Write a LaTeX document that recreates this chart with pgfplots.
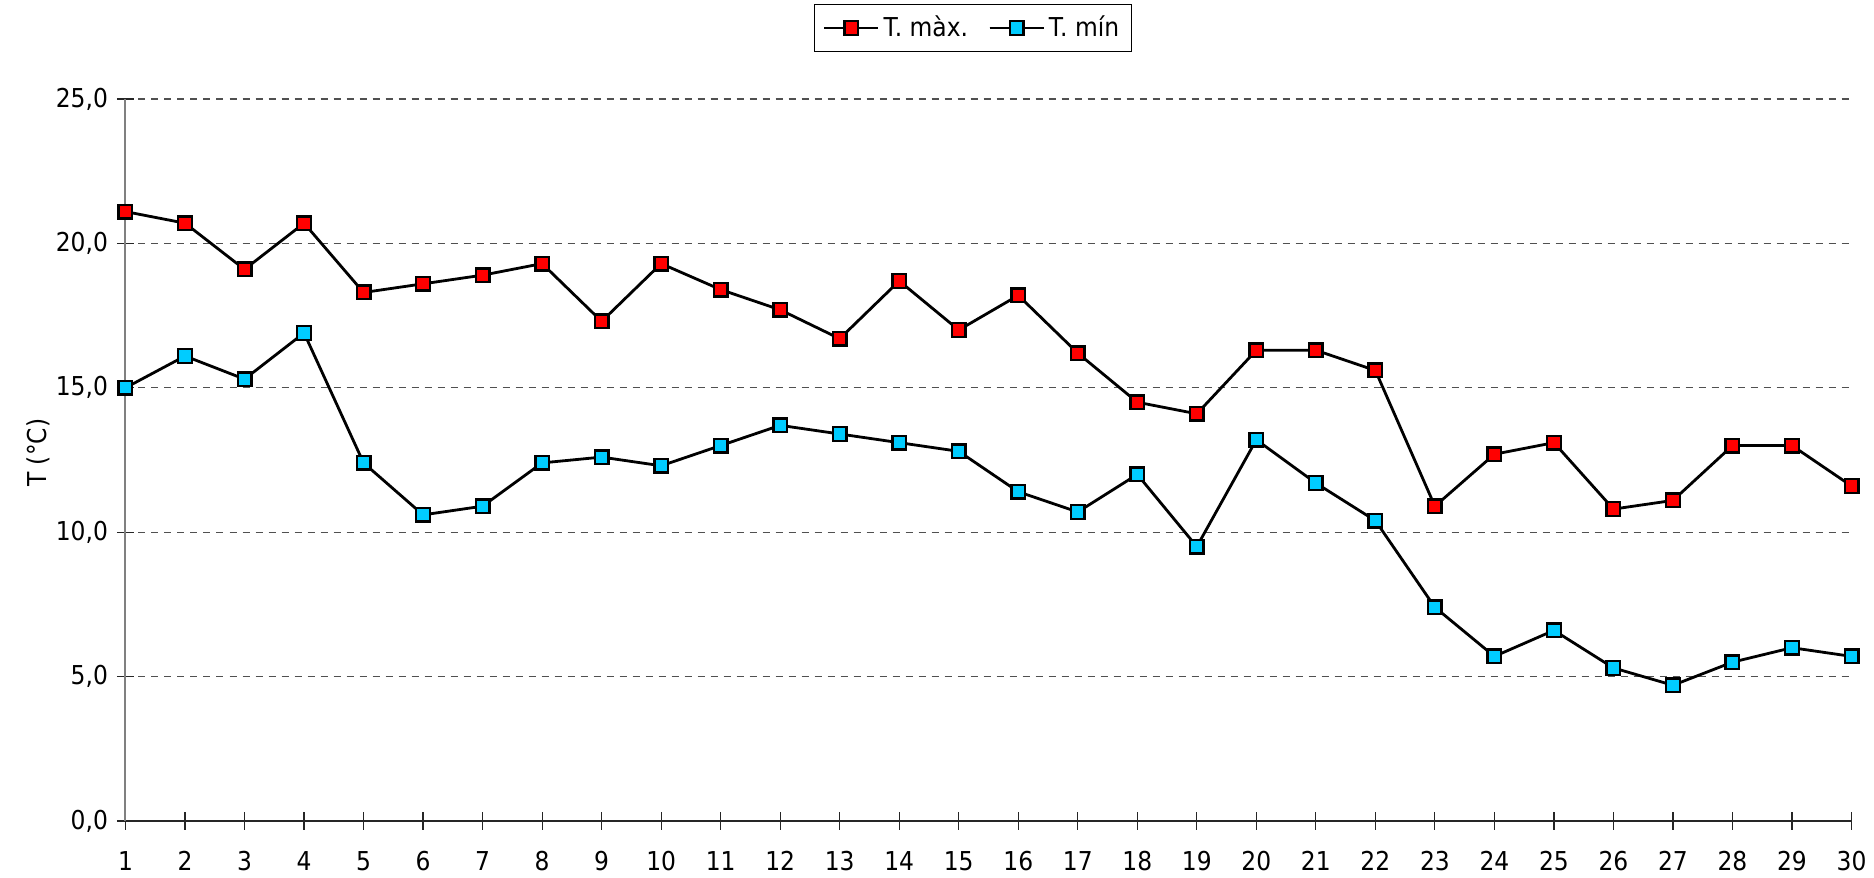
\documentclass[border=0pt]{standalone}
\usepackage{pgfplots}
\pgfplotsset{compat=1.18}
\usepackage{fontspec}
\setmainfont{DejaVu Sans Condensed}
\definecolor{tmax}{RGB}{255,0,0}
\definecolor{tmin}{RGB}{0,204,255}
\definecolor{gridgray}{RGB}{80,80,80}
\pgfplotstableread{
d tmax tmin
1 21.1 15.0
2 20.7 16.1
3 19.1 15.3
4 20.7 16.9
5 18.3 12.4
6 18.6 10.6
7 18.9 10.9
8 19.3 12.4
9 17.3 12.6
10 19.3 12.3
11 18.4 13.0
12 17.7 13.7
13 16.7 13.4
14 18.7 13.1
15 17.0 12.8
16 18.2 11.4
17 16.2 10.7
18 14.5 12.0
19 14.1 9.5
20 16.3 13.2
21 16.3 11.7
22 15.6 10.4
23 10.9 7.4
24 12.7 5.7
25 13.1 6.6
26 10.8 5.3
27 11.1 4.7
28 13.0 5.5
29 13.0 6.0
30 11.6 5.7
}\datatable
\begin{document}
\begin{tikzpicture}
\begin{axis}[
  scale only axis,
  width=863pt, height=361pt,
  at={(0,0)}, anchor=origin,
  xmin=1, xmax=30, ymin=0, ymax=25,
  xtick={1,...,30},
  ytick={0,5,10,15,20,25},
  font=\fontsize{13}{14}\selectfont,
  /pgf/number format/assume math mode=true,
  yticklabel style={xshift=-1pt, /pgf/number format/fixed, /pgf/number format/fixed zerofill, /pgf/number format/precision=1, /pgf/number format/use comma},
  xticklabel style={anchor=north, yshift=-7.5pt, /pgf/number format/int detect},
  axis x line*=bottom,
  axis y line*=left,
  x axis line style={black!85, line width=0.6pt, -},
  y axis line style={gray, line width=1pt, -},
  tick align=center,
  major tick length=8.5pt,
  tick style={black!85, line width=0.6pt},
  ymajorgrids=true,
  major grid style={gridgray, line width=0.6pt, dash pattern=on 3.5pt off 3pt},
  ylabel={T (°C)},
  every axis y label/.style={at={(axis description cs:-0.0507,0.51)}, rotate=90, anchor=center},
  legend columns=2,
  legend style={at={(0.491,1)}, anchor=center, yshift=35.5pt, draw=black, line width=0.5pt,
    /tikz/every even column/.append style={column sep=8pt}, font=\fontsize{13}{14}\selectfont, inner ysep=4pt, inner xsep=4pt},
  legend image code/.code={
    \draw[black, line width=1.3pt] (0cm,0cm) -- (0.95cm,0cm);
    \draw[mark repeat=2,mark phase=2] plot coordinates {(0cm,0cm)(0.475cm,0cm)(0.95cm,0cm)};
  },
  clip=false,
]
\addplot[black, line width=1.4pt, mark=square*, mark size=3.4pt, mark options={fill=tmax, draw=black, line width=1.2pt}] table[x=d, y=tmax] {\datatable};
\addlegendentry{T. màx.}
\addplot[black, line width=1.4pt, mark=square*, mark size=3.4pt, mark options={fill=tmin, draw=black, line width=1.2pt}] table[x=d, y=tmin] {\datatable};
\addlegendentry{T. mín}
\end{axis}
\pgfresetboundingbox
\path[use as bounding box] (-62.75pt,-28.5pt) rectangle (874.25pt,410.5pt);
\end{tikzpicture}
\end{document}
